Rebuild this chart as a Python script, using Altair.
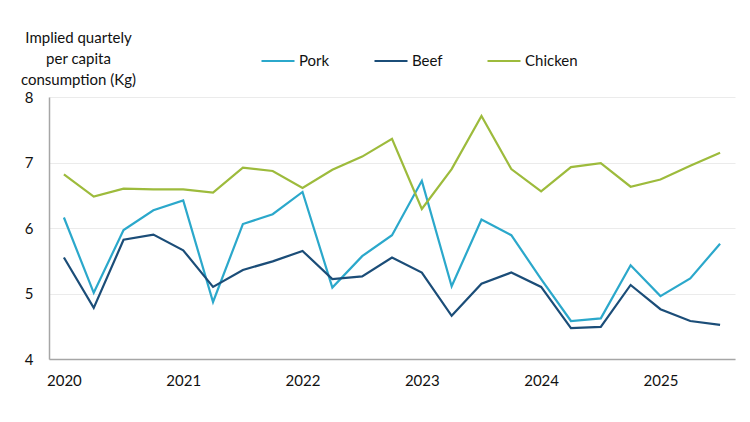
import altair as alt
import pandas as pd

quarters = [f"{y} Q{q}" for y in range(2020, 2026) for q in range(1, 5)][:23]

pork = [6.16, 5.01, 5.97, 6.27, 6.42, 4.87, 6.06, 6.21, 6.55, 5.09, 5.57, 5.89,
        6.72, 5.11, 6.13, 5.89, 5.22, 4.58, 4.62, 5.43, 4.96, 5.23, 5.76]
beef = [5.55, 4.78, 5.82, 5.90, 5.66, 5.10, 5.36, 5.49, 5.65, 5.22, 5.26, 5.55,
        5.32, 4.66, 5.15, 5.32, 5.10, 4.47, 4.49, 5.13, 4.76, 4.58, 4.52]
chicken = [6.82, 6.48, 6.60, 6.59, 6.59, 6.54, 6.92, 6.87, 6.61, 6.89, 7.09, 7.36,
           6.29, 6.90, 7.71, 6.90, 6.56, 6.93, 6.99, 6.63, 6.74, 6.95, 7.15]

series_names = ["Pork", "Beef", "Chicken"]
series_colors = ["#2BA8CB", "#1B4D78", "#9DBB3C"]

rows = []
for name, vals in zip(series_names, [pork, beef, chicken]):
    for i, (q, v) in enumerate(zip(quarters, vals)):
        rows.append({"quarter": q, "value": v, "meat": name, "order": i})
df = pd.DataFrame(rows)

FONT = "Lato"

chart = alt.Chart(df).mark_line(strokeWidth=2.2).encode(
    x=alt.X("quarter:O", sort=quarters,
            scale=alt.Scale(type="point", padding=0.5),
            axis=alt.Axis(title=None, ticks=False, grid=False, labelAngle=0,
                          labelExpr="indexof(datum.value, 'Q1') >= 0 ? substring(datum.value, 0, 4) : ''",
                          labelPadding=14, labelFontSize=15, labelColor="#111",
                          domainColor="#A6A6A6", domainWidth=1.5, labelFont=FONT)),
    y=alt.Y("value:Q", scale=alt.Scale(domain=[4, 8], nice=False, zero=False),
            axis=alt.Axis(values=[4, 5, 6, 7, 8], ticks=False, grid=True,
                          gridColor="#EBEBEB", gridWidth=1.2,
                          domainColor="#A6A6A6", domainWidth=1.5,
                          labelPadding=16, labelFontSize=15, labelColor="#111",
                          labelFont=FONT,
                          title=["Implied quartely", "per capita", "consumption (Kg)"],
                          titleAngle=0, titleAlign="center", titleBaseline="bottom",
                          titleX=29, titleY=-52, titleFontSize=15, titleFontWeight="normal",
                          titleFont=FONT, titleColor="#111", titleLineHeight=21)),
    color=alt.Color("meat:N", scale=alt.Scale(domain=series_names, range=series_colors),
                    legend=alt.Legend(title=None, orient="none", legendX=211, legendY=-54,
                                      direction="horizontal", symbolType="stroke",
                                      symbolSize=1089, symbolStrokeWidth=2.2,
                                      labelFontSize=15, labelFont=FONT, labelColor="#111",
                                      labelOffset=3, columnPadding=18, gridAlign="all")),
    order="order:Q",
).properties(
    width=686, height=262,
    autosize=alt.AutoSizeParams(type="none"),
    padding={"left": 41, "top": 89, "right": 7, "bottom": 50},
).configure_view(stroke=None)

chart.save("out.html", embed_options={"renderer": "svg", "actions": False})
